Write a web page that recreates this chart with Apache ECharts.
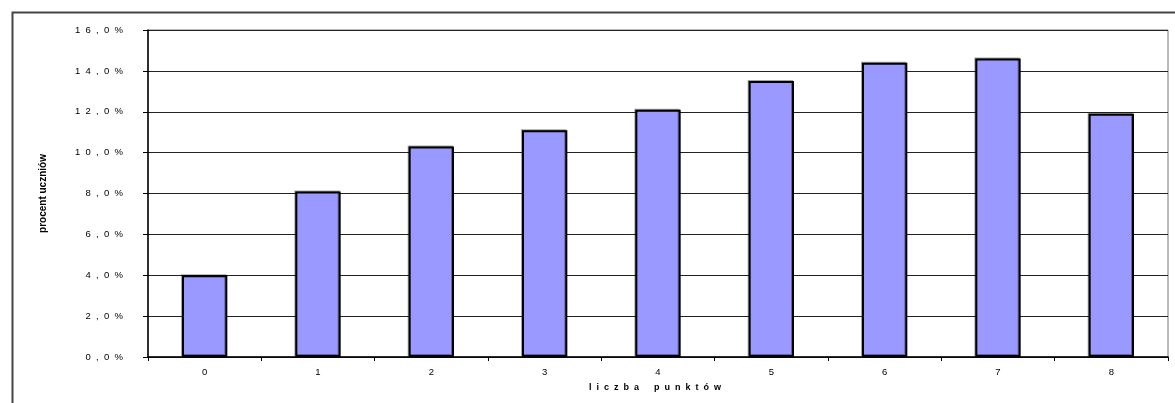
<!DOCTYPE html>
<html>
<head>
<meta charset="utf-8">
<script src="https://cdn.jsdelivr.net/npm/echarts@6/dist/echarts.min.js"></script>
<style>
html,body{margin:0;padding:0;background:#fff;}
#chart{width:1175px;height:403px;}
</style>
</head>
<body>
<div id="chart"></div>
<script>
var categories = ['0','1','2','3','4','5','6','7','8'];
var values = [4.0, 8.1, 10.3, 11.1, 12.1, 13.5, 14.4, 14.6, 11.9];
var yAxisTitle = 'procent uczniów';
var xAxisTitle = 'liczba punktów';

function spaced(s){ return s.split('').join('  '); }
function spacedWords(s){ return s.split(' ').map(spaced).join('      '); }

var chart = echarts.init(document.getElementById('chart'), null, {renderer:'canvas'});
chart.setOption({
  animation:false,
  backgroundColor:'#fff',
  textStyle:{fontFamily:'Liberation Sans, Arial, sans-serif'},
  graphic:[{
    type:'rect', left:10, top:10, silent:true, z:-1,
    shape:{width:1300, height:500},
    style:{fill:'none', stroke:'#444', lineWidth:2}
  },{
    type:'text', x:655, y:383, z:10,
    style:{text:spacedWords(xAxisTitle), font:'bold 9px Liberation Sans, Arial, sans-serif', fill:'#000', textAlign:'center'}
  }],
  grid:{left:148, top:30, right:7, bottom:46, show:true, borderColor:'#777', borderWidth:1, backgroundColor:'transparent'},
  xAxis:{
    type:'category', data:categories, boundaryGap:true,
    axisLine:{lineStyle:{color:'#000', width:1.5}},
    axisTick:{show:true, length:4, lineStyle:{color:'#000'}},
    axisLabel:{color:'#000', fontSize:9.5, margin:10}
  },
  yAxis:{
    type:'value', min:0, max:16, interval:2,
    name:yAxisTitle, nameLocation:'middle', nameGap:100,
    nameTextStyle:{fontWeight:'bold', fontSize:10, color:'#000'},
    axisLine:{show:true, lineStyle:{color:'#000', width:1.5}},
    axisTick:{show:true, length:5, lineStyle:{color:'#000'}},
    axisLabel:{color:'#000', fontSize:9.5, margin:25, formatter:function(v){return spaced(v.toFixed(1).replace('.', ',')) + '  %';}},
    splitLine:{show:true, lineStyle:{color:'#222', width:1}}
  },
  series:[{
    type:'bar', data:values, barWidth:'40%',
    itemStyle:{color:'#9999FF', borderColor:'#000', borderWidth:2,
      shadowColor:'rgba(0,0,0,0.35)', shadowBlur:0, shadowOffsetX:-1, shadowOffsetY:-1}
  }]
});
</script>
</body>
</html>
